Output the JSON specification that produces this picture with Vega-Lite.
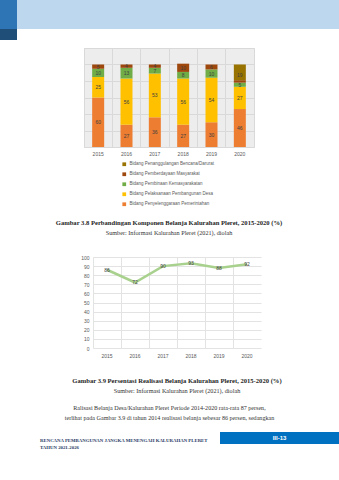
{
  "$schema": "https://vega.github.io/schema/vega-lite/v6.json",
  "padding": 0,
  "background": "white",
  "spacing": 18,
  "config": {"font": "Liberation Sans", "view": {"stroke": null}},
  "datasets": {
    "komponen": [
      {"tahun": "2015", "bidang": "Bidang Penyelenggaraan Pemerintahan", "nilai": 60, "urut": 1},
      {"tahun": "2015", "bidang": "Bidang Pelaksanaan Pembangunan Desa", "nilai": 25, "urut": 2},
      {"tahun": "2015", "bidang": "Bidang Pembinaan Kemasyarakatan", "nilai": 10, "urut": 3},
      {"tahun": "2015", "bidang": "Bidang Pemberdayaan Masyarakat", "nilai": 5, "urut": 4},
      {"tahun": "2016", "bidang": "Bidang Penyelenggaraan Pemerintahan", "nilai": 27, "urut": 1},
      {"tahun": "2016", "bidang": "Bidang Pelaksanaan Pembangunan Desa", "nilai": 56, "urut": 2},
      {"tahun": "2016", "bidang": "Bidang Pembinaan Kemasyarakatan", "nilai": 13, "urut": 3},
      {"tahun": "2016", "bidang": "Bidang Pemberdayaan Masyarakat", "nilai": 4, "urut": 4},
      {"tahun": "2017", "bidang": "Bidang Penyelenggaraan Pemerintahan", "nilai": 36, "urut": 1},
      {"tahun": "2017", "bidang": "Bidang Pelaksanaan Pembangunan Desa", "nilai": 53, "urut": 2},
      {"tahun": "2017", "bidang": "Bidang Pembinaan Kemasyarakatan", "nilai": 7, "urut": 3},
      {"tahun": "2017", "bidang": "Bidang Pemberdayaan Masyarakat", "nilai": 4, "urut": 4},
      {"tahun": "2018", "bidang": "Bidang Penyelenggaraan Pemerintahan", "nilai": 27, "urut": 1},
      {"tahun": "2018", "bidang": "Bidang Pelaksanaan Pembangunan Desa", "nilai": 56, "urut": 2},
      {"tahun": "2018", "bidang": "Bidang Pembinaan Kemasyarakatan", "nilai": 8, "urut": 3},
      {"tahun": "2018", "bidang": "Bidang Pemberdayaan Masyarakat", "nilai": 10, "urut": 4},
      {"tahun": "2019", "bidang": "Bidang Penyelenggaraan Pemerintahan", "nilai": 30, "urut": 1},
      {"tahun": "2019", "bidang": "Bidang Pelaksanaan Pembangunan Desa", "nilai": 54, "urut": 2},
      {"tahun": "2019", "bidang": "Bidang Pembinaan Kemasyarakatan", "nilai": 10, "urut": 3},
      {"tahun": "2019", "bidang": "Bidang Pemberdayaan Masyarakat", "nilai": 6, "urut": 4},
      {"tahun": "2020", "bidang": "Bidang Penyelenggaraan Pemerintahan", "nilai": 46, "urut": 1},
      {"tahun": "2020", "bidang": "Bidang Pelaksanaan Pembangunan Desa", "nilai": 27, "urut": 2},
      {"tahun": "2020", "bidang": "Bidang Pembinaan Kemasyarakatan", "nilai": 5, "urut": 3},
      {"tahun": "2020", "bidang": "Bidang Pemberdayaan Masyarakat", "nilai": 3, "urut": 4},
      {"tahun": "2020", "bidang": "Bidang Penanggulangan Bencana/Darurat", "nilai": 19, "urut": 5}
    ],
    "realisasi": [
      {"tahun": "2015", "persen": 86},
      {"tahun": "2016", "persen": 72},
      {"tahun": "2017", "persen": 90},
      {"tahun": "2018", "persen": 93},
      {"tahun": "2019", "persen": 88},
      {"tahun": "2020", "persen": 92}
    ]
  },
  "vconcat": [
    {
      "spacing": 7,
      "vconcat": [
        {
          "spacing": 0,
          "hconcat": [
            {
              "spacing": 0,
              "bounds": "flush",
              "vconcat": [
                {"width": 17, "height": 29, "data": {"values": [{"t": ""}]}, "mark": {"type": "text", "fontSize": 1}, "encoding": {"text": {"field": "t"}}, "view": {"fill": "#2E75B6", "stroke": null}},
                {"width": 17, "height": 11, "data": {"values": [{"t": ""}]}, "mark": {"type": "text", "fontSize": 1}, "encoding": {"text": {"field": "t"}}, "view": {"fill": "#1F4E79", "stroke": null}}
              ]
            },
            {"width": 322, "height": 29, "data": {"values": [{"t": ""}]}, "mark": {"type": "text", "fontSize": 1}, "encoding": {"text": {"field": "t"}}, "view": {"fill": "#BDD7EE", "stroke": null}}
          ]
        },
        {
          "spacing": 0,
          "bounds": "flush",
          "hconcat": [
            {"width": 84, "height": 20, "data": {"values": [{"t": ""}]}, "mark": {"type": "text", "fontSize": 1}, "encoding": {"text": {"field": "t"}}},
            {
              "data": {"name": "komponen"},
              "width": 170,
              "height": 99,
              "view": {"fill": "#EDEDED", "stroke": "#D9D9D9"},
              "title": {
                "text": "Gambar 3.8 Perbandingan Komponen Belanja Kalurahan Pleret, 2015-2020 (%)",
                "subtitle": "Sumber: Informasi Kalurahan Pleret (2021), diolah",
                "orient": "bottom",
                "anchor": "middle",
                "font": "Liberation Serif",
                "fontSize": 6.6,
                "fontWeight": "bold",
                "color": "#262626",
                "subtitleFont": "Liberation Serif",
                "subtitleFontSize": 6.2,
                "subtitleColor": "#333333",
                "subtitlePadding": 3,
                "offset": 64
              },
              "encoding": {
                "x": {
                  "field": "tahun", "type": "ordinal",
                  "scale": {"type": "band", "paddingInner": 0, "paddingOuter": 0},
                  "axis": {"title": null, "labelAngle": 0, "domain": false, "ticks": false, "labelFontSize": 5, "labelColor": "#595959", "labelPadding": 4, "grid": true, "gridColor": "#D9D9D9", "bandPosition": 0}
                },
                "y": {
                  "field": "nilai", "type": "quantitative", "stack": "zero",
                  "scale": {"domain": [0, 120]},
                  "axis": {"title": null, "labels": false, "ticks": false, "domain": false, "values": [0, 20, 40, 60, 80, 100, 120], "gridColor": "#D9D9D9"}
                },
                "order": {"field": "urut", "type": "quantitative"}
              },
              "layer": [
                {
                  "mark": {"type": "bar", "size": 12},
                  "encoding": {
                    "color": {
                      "field": "bidang", "type": "nominal",
                      "scale": {
                        "domain": ["Bidang Penanggulangan Bencana/Darurat", "Bidang Pemberdayaan Masyarakat", "Bidang Pembinaan Kemasyarakatan", "Bidang Pelaksanaan Pembangunan Desa", "Bidang Penyelenggaraan Pemerintahan"],
                        "range": ["#997300", "#9E480E", "#70AD47", "#FFC000", "#ED7D31"]
                      },
                      "legend": {"title": null, "orient": "none", "legendX": 122, "legendY": 162, "direction": "vertical", "labelFontSize": 4.5, "labelColor": "#595959", "symbolType": "square", "symbolSize": 14, "symbolStrokeWidth": 0, "rowPadding": 4, "labelOffset": 3}
                    }
                  }
                },
                {
                  "transform": [{"filter": "datum.nilai >= 4"}],
                  "mark": {"type": "text", "fontSize": 5, "color": "#404040"},
                  "encoding": {
                    "y": {"field": "nilai", "type": "quantitative", "stack": "zero", "bandPosition": 0.5},
                    "detail": {"field": "bidang"},
                    "text": {"field": "nilai", "type": "quantitative"}
                  }
                }
              ]
            }
          ]
        }
      ]
    },
    {
      "spacing": 9,
      "vconcat": [
        {
          "spacing": 0,
          "bounds": "flush",
          "hconcat": [
            {"width": 93, "height": 20, "data": {"values": [{"t": ""}]}, "mark": {"type": "text", "fontSize": 1}, "encoding": {"text": {"field": "t"}}},
            {
              "data": {"name": "realisasi"},
              "width": 168,
              "height": 91,
              "title": {
                "text": "Gambar 3.9 Persentasi Realisasi Belanja Kalurahan Pleret, 2015-2020 (%)",
                "subtitle": "Sumber: Informasi Kalurahan Pleret (2021), diolah",
                "orient": "bottom",
                "anchor": "middle",
                "font": "Liberation Serif",
                "fontSize": 6.6,
                "fontWeight": "bold",
                "color": "#262626",
                "subtitleFont": "Liberation Serif",
                "subtitleFontSize": 6.2,
                "subtitleColor": "#333333",
                "subtitlePadding": 3,
                "offset": 20
              },
              "encoding": {
                "x": {
                  "field": "tahun", "type": "ordinal", "bandPosition": 0.5,
                  "scale": {"type": "band", "paddingInner": 0, "paddingOuter": 0},
                  "axis": {"title": null, "labelAngle": 0, "domain": false, "ticks": false, "labelFontSize": 5, "labelColor": "#595959", "labelPadding": 5, "grid": true, "gridColor": "#E3E3E3", "bandPosition": 0}
                },
                "y": {
                  "field": "persen", "type": "quantitative",
                  "scale": {"domain": [0, 100]},
                  "axis": {"title": null, "ticks": false, "domain": false, "values": [0, 10, 20, 30, 40, 50, 60, 70, 80, 90, 100], "labelFontSize": 5, "labelColor": "#595959", "labelPadding": 4, "gridColor": "#E3E3E3"}
                }
              },
              "layer": [
                {"mark": {"type": "line", "color": "#A9D18E", "strokeWidth": 2.5}},
                {"mark": {"type": "text", "fontSize": 5, "color": "#404040"}, "encoding": {"text": {"field": "persen", "type": "quantitative"}}}
              ]
            }
          ]
        },
        {
          "width": 339,
          "height": 20,
          "data": {"values": [{"t": "Ralisasi Belanja Desa/Kalurahan Pleret Periode 2014-2020 rata-rata 87 persen,\nterlihat pada Gambar 3.9 di tahun 2014 realisasi belanja sebesar 86 persen, sedangkan"}]},
          "mark": {"type": "text", "align": "center", "lineBreak": "\n", "lineHeight": 10, "dy": -5, "font": "Liberation Serif", "fontSize": 6.1, "color": "#333333"},
          "encoding": {"text": {"field": "t"}}
        },
        {
          "spacing": 0,
          "bounds": "flush",
          "hconcat": [
            {"width": 80, "height": 12, "data": {"values": [{"t": "RENCANA PEMBANGUNAN JANGKA MENENGAH KALURAHAN PLERET\nTAHUN 2021-2026"}]}, "mark": {"type": "text", "align": "left", "lineBreak": "\n", "font": "Liberation Serif", "fontWeight": "bold", "fontSize": 4.8, "color": "#1F3864", "lineHeight": 7, "dy": 3}, "encoding": {"text": {"field": "t"}}},
            {"width": 140, "height": 12, "data": {"values": [{"t": ""}]}, "mark": {"type": "text", "fontSize": 1}, "encoding": {"text": {"field": "t"}}},
            {"width": 119, "height": 12, "data": {"values": [{"t": "III-13"}]}, "mark": {"type": "text", "color": "white", "fontWeight": "bold", "fontSize": 6}, "encoding": {"text": {"field": "t"}}, "view": {"fill": "#0070C0", "stroke": null}}
          ]
        }
      ]
    }
  ]
}
